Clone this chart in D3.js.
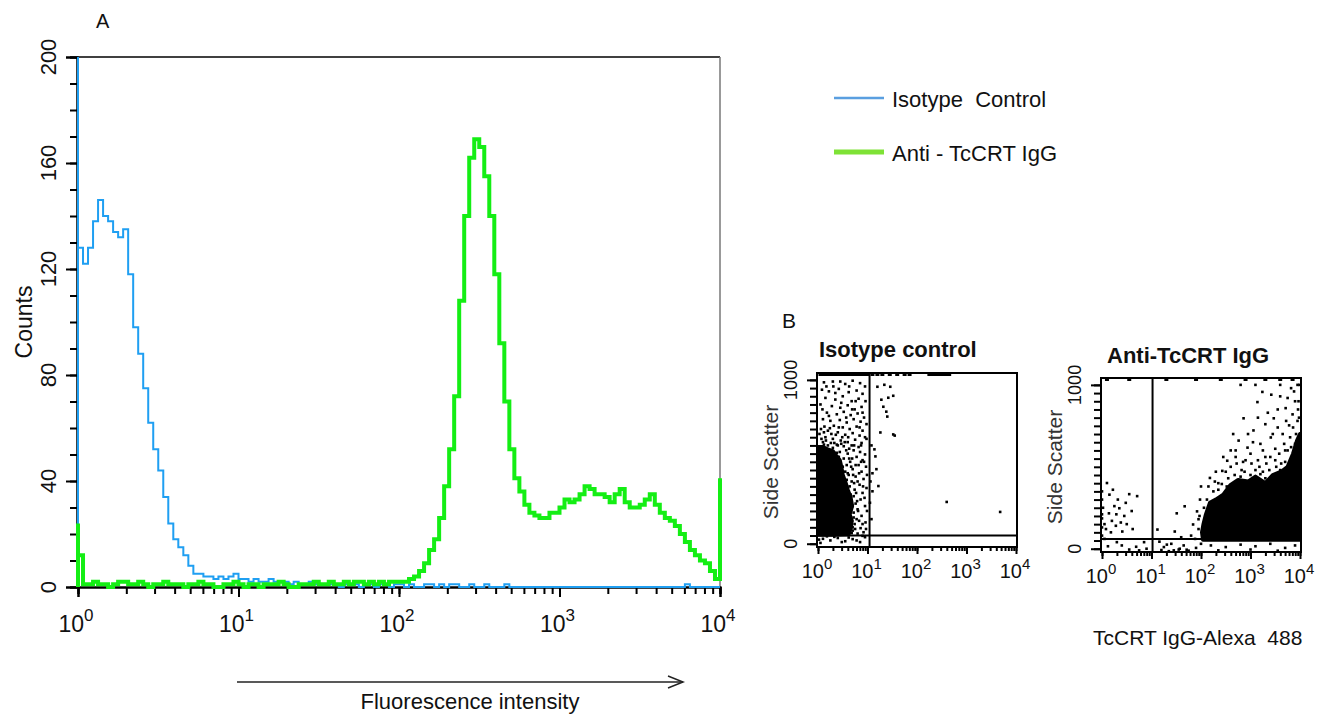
<!DOCTYPE html>
<html>
<head>
<meta charset="utf-8">
<script src="https://cdn.jsdelivr.net/npm/d3@7"></script>
<style>
  html, body { margin: 0; padding: 0; background: #fff; }
  svg { display: block; font-family: "Liberation Sans", Arial, sans-serif; }
</style>
</head>
<body>
<svg id="chart" width="1332" height="714"></svg>
<script>
// ---------- Panel A: histogram data (one value per channel, 32 channels per decade) ----------
const channelsPerDecade = 32;
const decadeTicks = [1, 10, 100, 1000, 10000];
const countTicks = [0, 40, 80, 120, 160, 200];
const legendLabels = ['Isotype  Control', 'Anti - TcCRT IgG'];

const isotypeStartSpike = 200;
const isotypeEndSpike = 0;
const isotypeCounts = [
  128, 122, 128, 138, 146, 140, 138, 134, 132, 135,
  118, 98, 88, 75, 62, 52, 44, 34, 24, 18,
  15, 12, 8, 5, 5, 4, 4, 3, 4, 3,
  4, 5, 3, 3, 2, 3, 2, 2, 3, 2,
  2, 2, 1, 2, 1, 1, 2, 1, 1, 1,
  1, 1, 0, 1, 1, 1, 0, 1, 1, 0,
  1, 1, 0, 1, 1, 0, 1, 0, 0, 1,
  1, 0, 1, 0, 1, 1, 0, 0, 1, 0,
  0, 1, 0, 0, 0, 1, 0, 0, 0, 0,
  0, 0, 0, 0, 0, 0, 0, 0, 0, 0,
  0, 0, 0, 0, 0, 0, 0, 0, 0, 0,
  0, 0, 0, 0, 0, 0, 0, 0, 0, 0,
  0, 1, 0, 0, 0, 0, 0, 0
];

const antiStartSpike = 24;
const antiEndSpike = 41;
const antiCounts = [
  12,
  1, 1, 2, 1, 1, 0, 1, 2, 2, 1,
  1, 2, 1, 0, 1, 1, 2, 1, 1, 1,
  0, 1, 1, 2, 1, 1, 0, 0, 1, 1,
  2, 1, 0, 1, 1, 0, 1, 1, 1, 2,
  1, 0, 0, 1, 1, 1, 2, 1, 1, 2,
  1, 1, 2, 1, 2, 2, 1, 2, 1, 2,
  1, 2, 2,
  2, 2, 3, 4, 6, 9, 14, 18, 26, 38,
  52, 72, 108, 140, 162, 169, 166, 155, 140, 118,
  92, 70, 52, 41, 36, 31, 28, 27, 26, 26,
  28, 28, 30, 33, 32, 33, 35, 38, 37, 35,
  35, 34, 32, 35, 37, 32, 30, 30, 31, 33,
  35, 31, 28, 26, 25, 23, 20, 17, 14, 12,
  10, 9, 6, 3
];

// ---------- Panel B: dot plots (x = log10 fluorescence, y = side scatter) ----------
const dotTitles = ['Isotype control', 'Anti-TcCRT IgG'];
const sscTicks = [0, 1000];
const isoGate = { fl: 11, ssc: 50 };
const antiGate = { fl: 10.5, ssc: 60 };

// outline of the saturated (solid black) population
const isoCore = [[0, 55], [0.3, 55], [0.62, 58], [0.66, 95], [0.68, 140], [0.64, 180], [0.69, 230],
  [0.66, 280], [0.6, 330], [0.56, 370], [0.5, 420], [0.47, 470], [0.44, 510], [0.36, 540],
  [0.3, 565], [0.2, 575], [0.1, 590], [0, 590]];
const isoDots = [
  [0.12, 985], [0.3, 990], [0.55, 975], [0.7, 995], [0.85, 980], [0.95, 960], [0.08, 940], [0.22, 930],
  [0.42, 945], [0.62, 925], [0.78, 935], [0.9, 915], [0.15, 890], [0.35, 880], [0.5, 900], [0.68, 870],
  [0.82, 885], [0.96, 870], [0.05, 850], [0.28, 840], [0.45, 830], [0.6, 845], [0.74, 820], [0.88, 835],
  [0.18, 800], [0.38, 790], [0.52, 805], [0.66, 785], [0.8, 795], [0.93, 770], [0.1, 760], [0.25, 750],
  [0.44, 755], [0.58, 740], [0.72, 760], [0.86, 745], [0.98, 730], [0.32, 720], [0.5, 710], [0.64, 700],
  [0.78, 715], [0.9, 690], [0.06, 700], [0.2, 690], [0.4, 680], [0.55, 665], [0.7, 675], [0.84, 660],
  [0.95, 650], [0.15, 650], [0.3, 640], [0.46, 630], [0.6, 620], [0.75, 635], [0.88, 615], [0.1, 620],
  [0.38, 605], [0.52, 595], [0.68, 600], [0.82, 590],
  [0.72, 570], [0.85, 560], [0.95, 545], [0.6, 550], [0.78, 530], [0.9, 510], [0.65, 500], [0.82, 480],
  [0.97, 470], [0.7, 455], [0.88, 440], [0.6, 430], [0.76, 410], [0.92, 395], [0.68, 380], [0.84, 360],
  [0.98, 340], [0.74, 330], [0.9, 310], [0.72, 290], [0.86, 270], [0.76, 245], [0.95, 230], [0.8, 210],
  [0.72, 190], [0.88, 170], [0.78, 150], [0.96, 130], [0.74, 120], [0.86, 95], [0.7, 80], [0.92, 70],
  [0.8, 62], [0.66, 300], [0.64, 350], [0.58, 390], [0.55, 440], [0.5, 470], [0.42, 530], [0.38, 555],
  [0.3, 585], [0.2, 600], [0.12, 605], [0.7, 230], [0.72, 160], [0.7, 100], [0.68, 65],
  [0.47, 610], [0.33, 615], [0.57, 570], [0.63, 520], [0.67, 470], [0.71, 420], [0.73, 370], [0.77, 310],
  [0.79, 260], [0.81, 200], [0.83, 140], [0.69, 140], [0.75, 90], [0.62, 420], [0.58, 480], [0.52, 520],
  [0.44, 560], [0.4, 600], [0.26, 615], [0.16, 630], [0.07, 640], [0.03, 670], [0.13, 715], [0.24, 705],
  [0.36, 665], [0.49, 650], [0.61, 650], [0.73, 600], [0.87, 600], [0.93, 500], [0.99, 420], [0.94, 280],
  [0.99, 200], [0.9, 120], [0.97, 90], [0.83, 430], [0.8, 380], [0.91, 350], [0.87, 500], [0.76, 480],
  [0.69, 520], [0.63, 580], [0.54, 620], [0.27, 670], [0.12, 680], [0.42, 710], [0.57, 770], [0.69, 820],
  [0.47, 860], [0.35, 920], [0.63, 960], [0.76, 870], [0.9, 800], [0.98, 640], [0.84, 710], [0.22, 780],
  [0.09, 820], [0.31, 960], [0.45, 990], [0.17, 960],
  [0.1, 30], [0.25, 20], [0.4, 35], [0.55, 15], [0.7, 28], [0.85, 10], [0.95, 40], [0.05, 5],
  [0.18, 45], [0.33, 42], [0.48, 10], [0.62, 38], [0.78, 20], [0.9, 48], [0.02, 25],
  [1.2, 958], [1.34, 970], [1.46, 958], [1.28, 879], [1.42, 891], [1.52, 903], [1.32, 836], [1.38, 806],
  [1.4, 776], [1.26, 679], [1.52, 667], [1.55, 660], [1.14, 576], [1.16, 533], [1.18, 455], [1.22, 352],
  [2.6, 255], [3.68, 194], [1.08, 600], [1.1, 430], [1.06, 380], [1.1, 320], [1.05, 250], [1.08, 150]
];
// events piled on the top edge (off-scale side scatter)
const isoTopRow = [0.05, 0.1, 0.15, 0.2, 0.25, 0.3, 0.35, 0.4, 0.45, 0.5, 0.55, 0.6, 0.65, 0.7, 0.75,
  0.8, 0.85, 0.9, 0.95, 1.0, 1.1, 1.2, 1.3, 1.45, 1.6, 1.75, 1.85, 2.25, 2.3, 2.35, 2.4, 2.45, 2.5,
  2.55, 2.6, 2.65];

const antiCore = [[2.04, 55], [2.02, 100], [2.05, 150], [2.1, 210], [2.18, 280], [2.3, 300], [2.45, 330],
  [2.6, 390], [2.75, 420], [2.95, 410], [3.1, 440], [3.3, 400], [3.45, 450], [3.62, 470], [3.75, 500],
  [3.86, 580], [3.94, 660], [4, 700], [4, 55]];
const antiDots = [
  [3.24, 957], [3.14, 895], [3.71, 858], [3.47, 796], [2.86, 796], [3.06, 722], [3.41, 679], [3.78, 753],
  [2.76, 660], [2.94, 617], [2.53, 537], [2.43, 475], [2.18, 432], [3.9, 900], [3.6, 930], [3.95, 1000],
  [3.82, 980], [3.55, 850], [3.3, 760], [3.65, 700], [3.2, 640], [3.5, 610], [3.0, 580], [2.7, 560],
  [3.85, 820], [3.92, 620], [3.7, 600], [3.3, 560], [2.6, 600], [2.85, 530], [3.15, 540], [2.3, 470],
  [2.35, 400], [2.0, 380], [2.8, 1000], [3.1, 1000], [3.98, 800], [3.97, 900], [3.99, 1000], [3.96, 850],
  [2.15, 380], [2.28, 410], [2.42, 395], [2.55, 430], [2.6, 500], [2.72, 520], [2.82, 480], [2.9, 540],
  [3.02, 520], [3.1, 480], [3.18, 500], [3.25, 470], [3.32, 520], [3.4, 560], [3.5, 540], [3.58, 580],
  [3.62, 520], [3.68, 640], [3.75, 600], [3.8, 680], [3.86, 740], [3.92, 700], [3.95, 780], [3.72, 780],
  [3.45, 700], [3.25, 600], [3.05, 650], [2.7, 600], [2.5, 470], [2.25, 350], [2.12, 300], [2.06, 250],
  [1.97, 200], [2.45, 560], [2.95, 700], [3.35, 830], [3.6, 1000], [3.75, 920], [3.88, 960], [3.42, 940],
  [2.65, 700], [3.15, 800], [3.55, 740], [2.4, 320], [2.8, 440], [3.0, 450], [3.3, 430], [3.6, 480],
  [3.85, 560], [3.99, 650], [2.35, 360], [2.52, 380], [2.68, 450], [2.88, 470], [3.2, 455], [3.38, 480],
  [3.52, 500], [3.7, 530], [3.82, 620], [3.9, 640],
  [1.67, 259], [1.51, 216], [1.92, 228], [1.84, 148], [1.47, 105], [1.12, 117], [1.16, 43], [1.31, 25],
  [1.57, 0], [1.71, -6], [1.8, 80], [1.95, 120], [1.88, 60], [1.6, 70], [1.4, 30], [1.25, 10],
  [1.45, -10], [1.65, 20], [1.75, -12], [1.9, 5], [1.55, -5], [1.35, -15], [1.2, -8], [1.98, 300],
  [1.95, 180], [2.0, 30], [2.2, 20], [2.5, 10], [2.8, 25], [3.1, 15], [3.4, 30], [3.7, 5], [3.9, 20],
  [2.35, -10], [3.0, -5], [3.55, -12],
  [0, 185], [0.14, 216], [0.29, 210], [0.35, 247], [0.1, 401], [0.55, 333], [0.71, 321], [0.41, 105],
  [0.9, 0], [0.69, 12], [0.05, 150], [0.2, 170], [0.25, 260], [0.45, 200], [0.5, 150], [0.6, 230],
  [0.32, 300], [0.15, 330], [0.02, 250], [0.08, 120], [0.38, 160], [0.28, 140], [0.18, 100], [0.62, 120],
  [0.48, 280], [0.22, 360], [0.05, 60], [0.3, 40], [0.12, 15], [0.55, -5], [0.75, -10], [0.4, 20],
  [0.85, 40], [0, 80], [0, 130], [0, 210], [0, 300], [0, 350]
];
const antiTopRow = [0.1, 0.55, 1.3, 1.9, 2.4, 2.9, 3.3, 3.6, 3.85];

// ---------- drawing ----------
const svg = d3.select('#chart');
svg.append('rect').attr('width', 1332).attr('height', 714).attr('fill', '#fff');

const blueLine = '#1f9ff2';
const greenLine = '#14ee14';

// Panel A scales
const xA = d3.scaleLog().domain([1, 1e4]).range([78, 720]);
const yA = d3.scaleLinear().domain([0, 200]).range([587, 57]);

const gA = svg.append('g').attr('class', 'panel-a');

// frame (top + right)
gA.append('line').attr('x1', 77).attr('x2', 720).attr('y1', yA(200)).attr('y2', yA(200))
  .attr('stroke', '#000').attr('stroke-width', 1.5);
gA.append('line').attr('x1', 720).attr('x2', 720).attr('y1', yA(200)).attr('y2', yA(0))
  .attr('stroke', '#777').attr('stroke-width', 1.5);

// y axis: minor ticks every 10, longer ticks every 40
const yMinor = gA.append('g').attr('transform', 'translate(77,0)')
  .call(d3.axisLeft(yA).tickValues(d3.range(0, 201, 10)).tickSize(7).tickFormat(''));
const yMajor = gA.append('g').attr('transform', 'translate(77,0)')
  .call(d3.axisLeft(yA).tickValues(countTicks).tickSize(11).tickFormat(''));
[yMinor, yMajor].forEach(g => {
  g.select('.domain').attr('stroke', '#000').attr('stroke-width', 2);
  g.selectAll('.tick line').attr('stroke', '#000').attr('stroke-width', 2);
});
// rotated count labels
gA.selectAll('.count-label').data(countTicks).enter().append('text')
  .attr('class', 'count-label')
  .attr('transform', d => `translate(56,${yA(d)}) rotate(-90)`)
  .attr('text-anchor', 'middle')
  .style('font-size', '22px')
  .attr('fill', '#111')
  .text(d => d);

// x axis: log minor ticks, decade labels with superscripts
const xMinor = gA.append('g').attr('transform', `translate(0,${yA(0)})`)
  .call(d3.axisBottom(xA).tickValues(xA.ticks()).tickSize(7).tickFormat(''));
const xMajor = gA.append('g').attr('transform', `translate(0,${yA(0)})`)
  .call(d3.axisBottom(xA).tickValues(decadeTicks).tickSize(10).tickFormat(''));
[xMinor, xMajor].forEach(g => {
  g.select('.domain').attr('stroke', '#000').attr('stroke-width', 2);
  g.selectAll('.tick line').attr('stroke', '#000').attr('stroke-width', 2);
});
gA.selectAll('.decade-label').data(decadeTicks).enter().append('text')
  .attr('class', 'decade-label')
  .attr('x', d => xA(d) - 2).attr('y', 632)
  .attr('text-anchor', 'middle')
  .attr('fill', '#111')
  .style('font-size', '23px')
  .each(function (d) {
    const t = d3.select(this);
    t.append('tspan').text('10');
    t.append('tspan').style('font-size', '17px').attr('dy', -11).text(Math.round(Math.log10(d)));
  });

// histogram lines
const histLine = d3.line()
  .x(d => xA(d[0]))
  .y(d => yA(d[1]))
  .curve(d3.curveStepAfter);

function channelPoints(counts, startSpike, endSpike) {
  const pts = [[1, 0], [1, startSpike]];
  counts.forEach((c, i) => pts.push([Math.pow(10, i / channelsPerDecade), c]));
  pts.push([1e4, endSpike]);
  return pts;
}

gA.append('path')
  .datum(channelPoints(isotypeCounts, isotypeStartSpike, isotypeEndSpike))
  .attr('d', histLine)
  .attr('fill', 'none')
  .attr('stroke', blueLine)
  .attr('stroke-width', 2);

gA.append('path')
  .datum(channelPoints(antiCounts, antiStartSpike, antiEndSpike))
  .attr('d', histLine)
  .attr('fill', 'none')
  .attr('stroke', greenLine)
  .attr('stroke-width', 4);

// labels
gA.append('text').attr('x', 96).attr('y', 28).style('font-size', '20px').attr('fill', '#111').text('A');
gA.append('text').attr('transform', 'translate(32,322) rotate(-90)')
  .attr('text-anchor', 'middle').style('font-size', '23px').attr('fill', '#111').text('Counts');

// arrow + axis title
gA.append('line').attr('x1', 237).attr('x2', 683).attr('y1', 682).attr('y2', 682)
  .attr('stroke', '#222').attr('stroke-width', 1.5);
gA.append('path').attr('d', 'M668,676 L683,682 L668,688')
  .attr('fill', 'none').attr('stroke', '#222').attr('stroke-width', 1.5);
gA.append('text').attr('x', 470).attr('y', 709).attr('text-anchor', 'middle')
  .style('font-size', '22px').attr('fill', '#111').text('Fluorescence intensity');

// legend
const legend = svg.append('g').attr('class', 'legend');
const legendItems = [
  { label: legendLabels[0], color: '#5a9fe0', width: 2.5, y: 98 },
  { label: legendLabels[1], color: '#7ee236', width: 5, y: 152 }
];
legendItems.forEach(item => {
  legend.append('line').attr('x1', 834).attr('x2', 884).attr('y1', item.y).attr('y2', item.y)
    .attr('stroke', item.color).attr('stroke-width', item.width);
  legend.append('text').attr('x', 892).attr('y', item.y + 9)
    .style('font-size', '22px').attr('fill', '#111')
    .style('white-space', 'pre')
    .text(item.label);
});

// ---------- Panel B ----------
svg.append('text').attr('x', 782).attr('y', 328).style('font-size', '21px').attr('fill', '#111').text('B');

function drawDotPlot(cfg) {
  const w = 200, h = 174;
  const g = svg.append('g').attr('transform', `translate(${cfg.x0},${cfg.y0})`);
  const x = d3.scaleLog().domain([1, 1e4]).range([1, w - 1]);
  const y = d3.scaleLinear().domain([-20, 1042]).range([h, 0]);
  const px = v => x(Math.pow(10, v));

  // solid population
  g.append('path')
    .datum(cfg.core)
    .attr('d', d3.line().x(d => px(d[0])).y(d => y(d[1])).curve(d3.curveLinearClosed))
    .attr('fill', '#000').attr('stroke', '#000').attr('stroke-width', 4).attr('stroke-linejoin', 'round');

  // single events
  g.selectAll('.dot').data(cfg.dots).enter().append('rect')
    .attr('class', 'dot')
    .attr('x', d => px(d[0]) - 1.3)
    .attr('y', d => y(d[1]) - 1.3)
    .attr('width', 2.6).attr('height', 2.6)
    .attr('fill', '#000');

  g.selectAll('.top').data(cfg.topRow).enter().append('rect')
    .attr('class', 'top')
    .attr('x', d => px(d) - 2)
    .attr('y', 0).attr('width', 4).attr('height', 3)
    .attr('fill', '#000');

  // gates
  g.append('line').attr('x1', x(cfg.gate.fl)).attr('x2', x(cfg.gate.fl)).attr('y1', 0).attr('y2', h)
    .attr('stroke', '#000').attr('stroke-width', 2);
  g.append('line').attr('x1', 0).attr('x2', w).attr('y1', y(cfg.gate.ssc)).attr('y2', y(cfg.gate.ssc))
    .attr('stroke', '#000').attr('stroke-width', 2);

  // box
  g.append('rect').attr('width', w).attr('height', h)
    .attr('fill', 'none').attr('stroke', '#000').attr('stroke-width', 2);

  // y ticks
  const yMin = g.append('g').call(d3.axisLeft(y).tickValues(d3.range(0, 1001, 50)).tickSize(7).tickFormat(''));
  const yMaj = g.append('g').call(d3.axisLeft(y).tickValues(sscTicks).tickSize(10).tickFormat(''));
  [yMin, yMaj].forEach(a => {
    a.select('.domain').remove();
    a.selectAll('.tick line').attr('stroke', '#000').attr('stroke-width', 2);
  });
  g.selectAll('.ssc-label').data(sscTicks).enter().append('text')
    .attr('class', 'ssc-label')
    .attr('transform', d => `translate(-20,${y(d)}) rotate(-90)`)
    .attr('text-anchor', 'middle')
    .style('font-size', '18px')
    .attr('fill', '#111')
    .text(d => d);

  // x ticks
  const xMin = g.append('g').attr('transform', `translate(0,${h})`)
    .call(d3.axisBottom(x).tickValues(x.ticks()).tickSize(4).tickFormat(''));
  const xMaj = g.append('g').attr('transform', `translate(0,${h})`)
    .call(d3.axisBottom(x).tickValues(decadeTicks).tickSize(7).tickFormat(''));
  [xMin, xMaj].forEach(a => {
    a.select('.domain').remove();
    a.selectAll('.tick line').attr('stroke', '#000').attr('stroke-width', 2);
  });
  g.selectAll('.fl-label').data(decadeTicks).enter().append('text')
    .attr('class', 'fl-label')
    .attr('x', d => x(d) - 1).attr('y', h + 31)
    .attr('text-anchor', 'middle')
    .attr('fill', '#111')
    .style('font-size', '20px')
    .each(function (d) {
      const t = d3.select(this);
      t.append('tspan').text('10');
      t.append('tspan').style('font-size', '15px').attr('dy', -9).text(Math.round(Math.log10(d)));
    });

  // titles
  g.append('text').attr('x', cfg.titleDx).attr('y', cfg.titleDy)
    .style('font-size', '22px').attr('font-weight', 'bold').attr('fill', '#111').text(cfg.title);
  g.append('text').attr('transform', `translate(-39,${h / 2 + 2}) rotate(-90)`)
    .attr('text-anchor', 'middle').style('font-size', '21px').attr('fill', '#333').text('Side Scatter');
}

drawDotPlot({ x0: 817, y0: 373, title: dotTitles[0], titleDx: 2, titleDy: -16,
  core: isoCore, dots: isoDots, topRow: isoTopRow, gate: isoGate });
drawDotPlot({ x0: 1101, y0: 378, title: dotTitles[1], titleDx: 6, titleDy: -15,
  core: antiCore, dots: antiDots, topRow: antiTopRow, gate: antiGate });

svg.append('text').attr('x', 1093).attr('y', 645).style('font-size', '21px').attr('fill', '#111')
  .style('white-space', 'pre')
  .text('TcCRT IgG-Alexa  488');
</script>
</body>
</html>
